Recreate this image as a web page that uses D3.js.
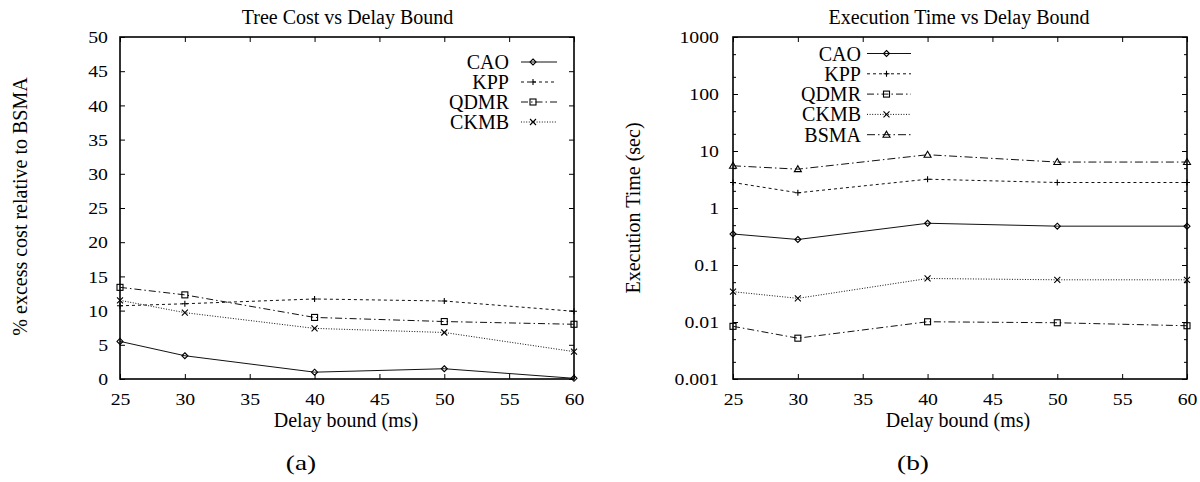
<!DOCTYPE html>
<html>
<head>
<meta charset="utf-8">
<script src="https://cdn.jsdelivr.net/npm/d3@7"></script>
<style>
  body { margin: 0; background: #fff; }
  svg text { font-family: "Liberation Serif", "Times New Roman", serif; fill: #000; }
</style>
</head>
<body>
<svg id="chart" width="1200" height="482"></svg>
<script>
// delay bounds on the x axis (ms)
const delays = [25, 30, 40, 50, 60];

// (a) % excess cost relative to BSMA
const costCAO  = [5.5, 3.4, 1.0, 1.5, 0.1];
const costKPP  = [10.7, 11.0, 11.7, 11.4, 9.9];
const costQDMR = [13.4, 12.3, 9.0, 8.4, 8.0];
const costCKMB = [11.5, 9.7, 7.4, 6.8, 4.0];

// (b) execution time (sec)
const timeCAO  = [0.35, 0.28, 0.54, 0.48, 0.48];
const timeKPP  = [2.8, 1.85, 3.2, 2.8, 2.8];
const timeQDMR = [0.0084, 0.0052, 0.0101, 0.0097, 0.0086];
const timeCKMB = [0.034, 0.026, 0.058, 0.055, 0.055];
const timeBSMA = [5.5, 4.8, 8.6, 6.4, 6.4];

const xTicks = [25, 30, 35, 40, 45, 50, 55, 60];
const costTicks = [0, 5, 10, 15, 20, 25, 30, 35, 40, 45, 50];
const timeTicks = [0.001, 0.01, 0.1, 1, 10, 100, 1000];
const timeTickLabels = ['0.001', '0.01', '0.1', '1', '10', '100', '1000'];

// line style per algorithm
const styles = {
  CAO:  { dash: null,            marker: 'diamond' },
  KPP:  { dash: '3,3',           marker: 'plus' },
  QDMR: { dash: '7,3,1.5,3',     marker: 'square' },
  CKMB: { dash: '1,1.6',         marker: 'cross' },
  BSMA: { dash: '8,3,1.5,3',     marker: 'triangle' }
};

const svg = d3.select('#chart');
const fontSize = 20;
const tickFont = 17.5;

function drawMarker(g, type, x, y) {
  const s = 3;
  if (type === 'diamond') {
    g.append('path').attr('d', `M${x},${y - s}L${x + s},${y}L${x},${y + s}L${x - s},${y}Z`)
      .attr('fill', 'none').attr('stroke', '#000').attr('stroke-width', 1.1);
  } else if (type === 'plus') {
    g.append('path').attr('d', `M${x - s},${y}H${x + s}M${x},${y - s}V${y + s}`)
      .attr('stroke', '#000').attr('stroke-width', 1.1);
  } else if (type === 'square') {
    g.append('rect').attr('x', x - s).attr('y', y - s).attr('width', 2 * s).attr('height', 2 * s)
      .attr('fill', 'none').attr('stroke', '#000').attr('stroke-width', 1.1);
  } else if (type === 'cross') {
    g.append('path').attr('d', `M${x - s},${y - s}L${x + s},${y + s}M${x - s},${y + s}L${x + s},${y - s}`)
      .attr('stroke', '#000').attr('stroke-width', 1.1);
  } else if (type === 'triangle') {
    g.append('path').attr('d', `M${x},${y - s - 0.5}L${x + s + 0.5},${y + s - 0.5}L${x - s - 0.5},${y + s - 0.5}Z`)
      .attr('fill', 'none').attr('stroke', '#000').attr('stroke-width', 1.1);
  }
}

function drawPanel(p) {
  const x = d3.scaleLinear().domain([25, 60]).range([p.left, p.right]);
  const y = p.y;
  const g = svg.append('g');

  // axes, ticks pointing inward on all four sides
  g.append('g').attr('transform', `translate(0,${p.bottom})`)
    .call(d3.axisBottom(x).tickValues(xTicks).tickSizeInner(-5).tickSizeOuter(0).tickPadding(13.5));
  g.append('g').attr('transform', `translate(0,${p.top})`)
    .call(d3.axisTop(x).tickValues(xTicks).tickSizeInner(-5).tickSizeOuter(0).tickFormat(''));
  g.append('g').attr('transform', `translate(${p.left},0)`)
    .call(d3.axisLeft(y).tickValues(p.yTicks).tickSizeInner(-5).tickSizeOuter(0)
      .tickPadding(p.yPad).tickFormat((d, i) => p.yLabels[i]));
  g.append('g').attr('transform', `translate(${p.right},0)`)
    .call(d3.axisRight(y).tickValues(p.yTicks).tickSizeInner(-5).tickSizeOuter(0).tickFormat(''));
  if (p.minor) {
    g.append('g').attr('transform', `translate(${p.left},0)`)
      .call(d3.axisLeft(y).tickValues(p.minor).tickSizeInner(-3).tickSizeOuter(0).tickFormat(''));
    g.append('g').attr('transform', `translate(${p.right},0)`)
      .call(d3.axisRight(y).tickValues(p.minor).tickSizeInner(-3).tickSizeOuter(0).tickFormat(''));
  }
  g.selectAll('.domain').remove();
  g.selectAll('.tick line').attr('stroke', '#000').attr('stroke-width', 1);
  g.selectAll('.tick text').attr('class', 'stretch').attr('data-stretch', 1.13)
    .style('font-size', tickFont + 'px')
    .style('font-family', '"Liberation Serif", "Times New Roman", serif');

  // frame
  g.append('rect').attr('x', p.left).attr('y', p.top)
    .attr('width', p.right - p.left).attr('height', p.bottom - p.top)
    .attr('fill', 'none').attr('stroke', '#000').attr('stroke-width', 1.6);

  // series
  const line = d3.line().x((d, i) => x(delays[i])).y(d => y(d));
  p.series.forEach((s, k) => {
    const st = styles[s.name];
    g.append('path').datum(s.values).attr('d', line)
      .attr('fill', 'none').attr('stroke', '#111').attr('stroke-width', 1)
      .attr('stroke-dasharray', st.dash);
    s.values.forEach((v, i) => drawMarker(g, st.marker, x(delays[i]), y(v)));

    // legend entry
    const ly = p.legendY + k * p.legendStep;
    g.append('text').attr('x', p.legendText).attr('y', ly).attr('dy', '0.35em')
      .attr('text-anchor', 'end').style('font-size', fontSize + 'px').text(s.name);
    g.append('line').attr('x1', p.legendLine[0]).attr('x2', p.legendLine[1])
      .attr('y1', ly).attr('y2', ly)
      .attr('stroke', '#111').attr('stroke-width', 1).attr('stroke-dasharray', st.dash);
    drawMarker(g, st.marker, p.legendMark, ly);
  });

  // titles and labels
  g.append('text').attr('x', p.titleX).attr('y', 23.5).attr('text-anchor', 'middle')
    .style('font-size', fontSize + 'px').text(p.title);
  g.append('text').attr('x', p.xLabelX).attr('y', 427).attr('text-anchor', 'middle')
    .style('font-size', fontSize + 'px').text('Delay bound (ms)');
  g.append('text').attr('transform', `translate(${p.yLabelX},${p.yLabelY}) rotate(-90)`)
    .attr('text-anchor', 'middle').style('font-size', fontSize + 'px').text(p.yLabel);
  g.append('text').attr('class', 'stretch').attr('data-stretch', 1.3)
    .attr('x', p.captionX).attr('y', 470).attr('text-anchor', 'middle')
    .style('font-size', '21px').text(p.caption);
}

drawPanel({
  left: 120, right: 574, top: 37, bottom: 379,
  y: d3.scaleLinear().domain([0, 50]).range([379, 37]),
  yTicks: costTicks, yLabels: costTicks.map(String), yPad: 12,
  series: [
    { name: 'CAO', values: costCAO },
    { name: 'KPP', values: costKPP },
    { name: 'QDMR', values: costQDMR },
    { name: 'CKMB', values: costCKMB }
  ],
  legendY: 62, legendStep: 20, legendText: 509, legendLine: [521, 557], legendMark: 533,
  title: 'Tree Cost vs Delay Bound', titleX: 347.5,
  xLabelX: 346, yLabel: '% excess cost relative to BSMA', yLabelX: 26.5, yLabelY: 206.5,
  caption: '(a)', captionX: 301
});

const minorTime = [];
timeTicks.slice(0, -1).forEach(t => { minorTime.push(t * 2, t * 5); });

drawPanel({
  left: 733, right: 1187, top: 37, bottom: 379,
  y: d3.scaleLog().domain([0.001, 1000]).range([379, 37]),
  yTicks: timeTicks, yLabels: timeTickLabels, yPad: 14, minor: minorTime,
  series: [
    { name: 'CAO', values: timeCAO },
    { name: 'KPP', values: timeKPP },
    { name: 'QDMR', values: timeQDMR },
    { name: 'CKMB', values: timeCKMB },
    { name: 'BSMA', values: timeBSMA }
  ],
  legendY: 53.5, legendStep: 20.3, legendText: 861, legendLine: [867, 911], legendMark: 886.5,
  title: 'Execution Time vs Delay Bound', titleX: 959,
  xLabelX: 958, yLabel: 'Execution Time (sec)', yLabelX: 640, yLabelY: 208,
  caption: '(b)', captionX: 913
});

// the reference text is a little wider than the font: stretch horizontally
svg.selectAll('text.stretch').each(function () {
  const len = this.getComputedTextLength();
  const k = +this.getAttribute('data-stretch');
  d3.select(this).attr('textLength', len * k).attr('lengthAdjust', 'spacingAndGlyphs');
});
</script>
</body>
</html>
